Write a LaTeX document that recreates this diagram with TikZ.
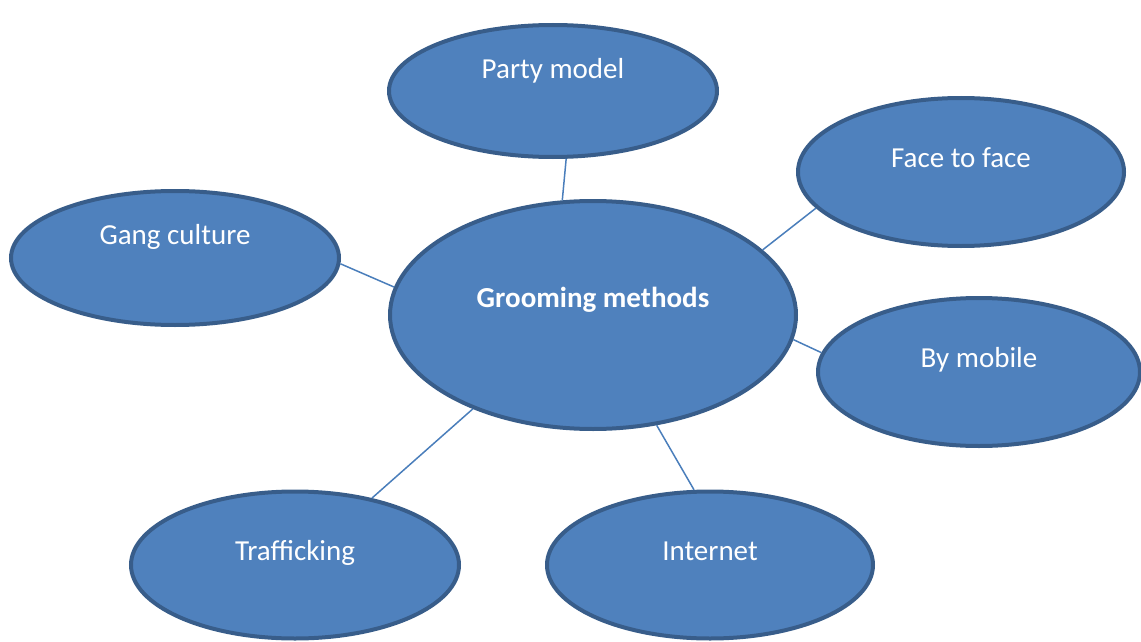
\documentclass[tikz,border=0pt]{standalone}
\usepackage{fontspec}
\setmainfont{Carlito}
\usetikzlibrary{shapes.geometric}

\definecolor{bubblefill}{HTML}{4F81BD}
\definecolor{bubbleline}{HTML}{385D8A}
\definecolor{linkline}{HTML}{4A7EBB}

\tikzset{
  bubble/.style={ellipse, draw=bubbleline, line width=4pt, fill=bubblefill, inner sep=0pt},
  caption/.style={anchor=base, text=white, inner sep=0pt, font=\fontsize{29pt}{35pt}\selectfont},
  link/.style={draw=linkline, line width=1.5pt},
}

\begin{document}
\begin{tikzpicture}[x=1pt, y=-1pt]
\useasboundingbox (0,0) rectangle (1141,642);

% the ellipses
\node[bubble, minimum width=406pt, minimum height=228pt] (GM) at (593,315) {};
\node[bubble, minimum width=328pt, minimum height=132pt] (party) at (553,91) {};
\node[bubble, minimum width=326pt, minimum height=148pt] (face) at (961,172) {};
\node[bubble, minimum width=328pt, minimum height=134pt] (gang) at (175,258) {};
\node[bubble, minimum width=322pt, minimum height=148pt] (mobile) at (979,372) {};
\node[bubble, minimum width=328pt, minimum height=147pt] (traf) at (295,565) {};
\node[bubble, minimum width=326pt, minimum height=147pt] (internet) at (710,565) {};

% the texts
\node[caption] (GMtext) at ([yshift=8pt]GM.center) {\textbf{Grooming methods}};
\node[caption] (partytext) at ([yshift=13pt]party.center) {Party model};
\node[caption] (facetext) at ([yshift=5pt]face.center) {Face to face};
\node[caption] (gangtext) at ([yshift=14pt]gang.center) {Gang culture};
\node[caption] (mobiletext) at ([yshift=5pt]mobile.center) {By mobile};
\node[caption] (traftext) at ([yshift=5pt]traf.center) {Trafficking};
\node[caption] (internettext) at ([yshift=5pt]internet.center) {Internet};

% the links
\draw[link] (GM.105) -- (party.-79);
\draw[link] (GM.21) -- (face.194);
\draw[link] (GM.172) -- (gang.-2);
\draw[link] (GM.-7) -- (mobile.173);
\draw[link] (GM.218) -- (traf.41);
\draw[link] (GM.-60) -- (internet.102);

\end{tikzpicture}
\end{document}
